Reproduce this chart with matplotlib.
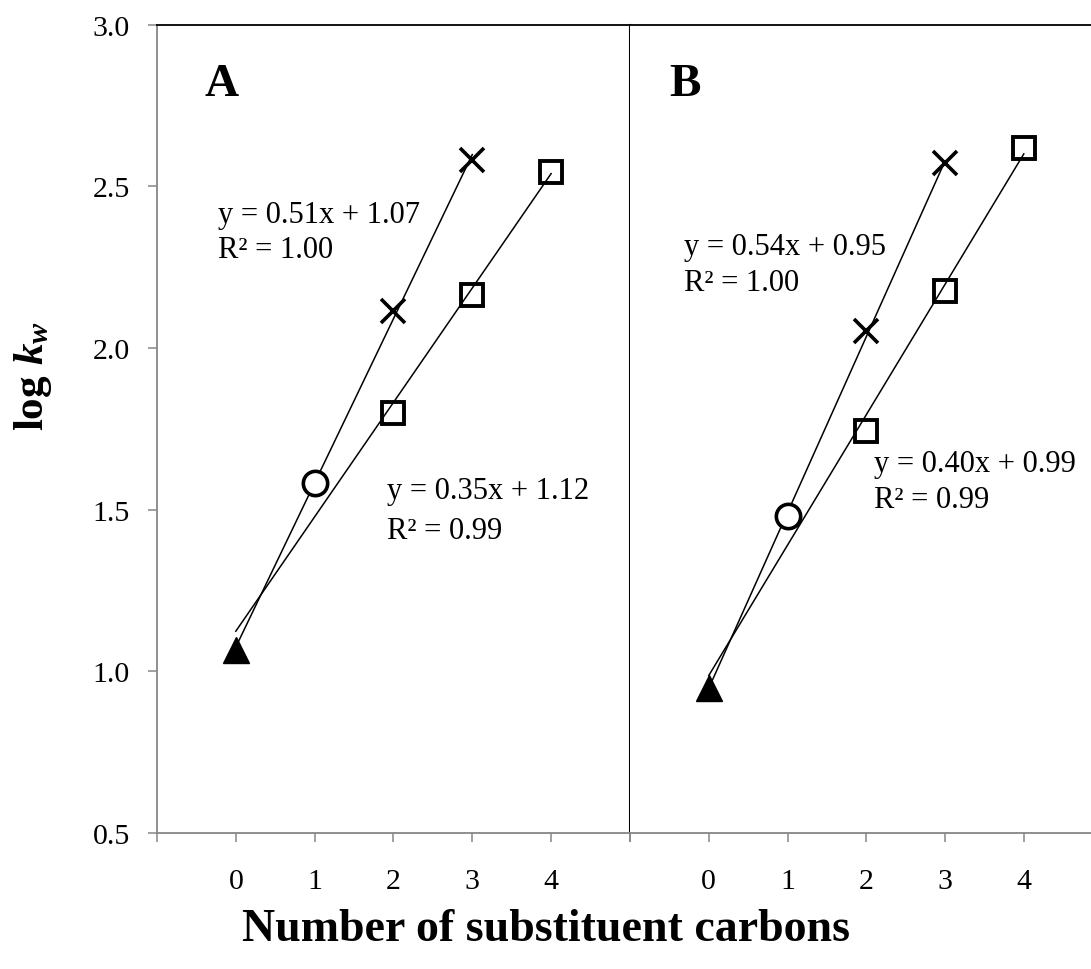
import numpy as np
import matplotlib
matplotlib.use("Agg")
import matplotlib.pyplot as plt

plt.rcParams['font.family'] = ['Liberation Serif', 'DejaVu Serif']
plt.rcParams['mathtext.fontset'] = 'custom'
plt.rcParams['mathtext.rm'] = 'Liberation Serif:bold'
plt.rcParams['mathtext.it'] = 'Liberation Serif:italic:bold'
plt.rcParams['mathtext.bf'] = 'Liberation Serif:bold'

# values
panels = ['A', 'B']
tri_x = [0]
tri_y = {'A': [1.067], 'B': [0.950]}
circ_x = [1]
circ_y = {'A': [1.583], 'B': [1.480]}
cross_x = [2, 3]
cross_y = {'A': [2.115, 2.582], 'B': [2.052, 2.571]}
sq_x = [2, 3, 4]
sq_y = {'A': [1.799, 2.165, 2.545], 'B': [1.744, 2.177, 2.618]}

eq_cross = {'A': ['y = 0.51x + 1.07', 'R² = 1.00'], 'B': ['y = 0.54x + 0.95', 'R² = 1.00']}
eq_sq = {'A': ['y = 0.35x + 1.12', 'R² = 0.99'], 'B': ['y = 0.40x + 0.99', 'R² = 0.99']}

x_ticks = [-1, 0, 1, 2, 3, 4, 5]
x_labels = ['', '0', '1', '2', '3', '4', '']
y_ticks = [0.5, 1.0, 1.5, 2.0, 2.5, 3.0]

fig = plt.figure(figsize=(10.91, 9.70), dpi=100)
gray = '#868686'
bottom, height = 0.1402, 0.8333
axA = fig.add_axes([0.1439, bottom, 0.4335, height])
axB = fig.add_axes([0.5775, bottom, 0.4331, height])

# text positions (data coords) for the equation labels
eq_pos = {'A': [(-0.23, 2.414, 2.306), (1.92, 1.558, 1.437)],
          'B': [(-0.32, 2.315, 2.204), (2.095, 1.644, 1.530)]}
letter_x = {'A': 0.10, 'B': 0.083}
fs = 21.5

for p, ax in zip(panels, [axA, axB]):
    # trend lines: cross series uses tri+circle+cross, square series uses tri+circle+squares
    xc = np.array(tri_x + circ_x + cross_x)
    yc = np.array(tri_y[p] + circ_y[p] + cross_y[p])
    xs = np.array(tri_x + circ_x + sq_x)
    ys = np.array(tri_y[p] + circ_y[p] + sq_y[p])
    for xx, yy in [(xc, yc), (xs, ys)]:
        m, b = np.polyfit(xx, yy, 1)
        xl = np.array([xx.min(), xx.max()])
        ax.plot(xl, m * xl + b, color='black', lw=1.1, zorder=2)

    ax.plot(tri_x, tri_y[p], '^', color='black', ms=19, zorder=3)
    ax.plot(circ_x, circ_y[p], 'o', mfc='white', mec='black', mew=2.6, ms=17.5, zorder=3)
    ax.plot(cross_x, cross_y[p], 'x', color='black', mew=2.6, ms=17, ls='none', zorder=3)
    ax.plot(sq_x, sq_y[p], 's', mfc='none', mec='black', mew=2.8, ms=16, ls='none', zorder=3)

    (x1, y1a, y1b), (x2, y2a, y2b) = eq_pos[p]
    ax.text(x1, y1a, eq_cross[p][0], fontsize=22, va='center', ha='left')
    ax.text(x1, y1b, eq_cross[p][1], fontsize=22, va='center', ha='left')
    ax.text(x2, y2a, eq_sq[p][0], fontsize=22, va='center', ha='left')
    ax.text(x2, y2b, eq_sq[p][1], fontsize=22, va='center', ha='left')

    ax.text(letter_x[p], 0.927, p, transform=ax.transAxes, fontsize=34, fontweight='bold',
            ha='left', va='center')

    ax.set_xlim(-1, 5)
    ax.set_ylim(0.5, 3.0)
    ax.set_xticks(x_ticks)
    ax.set_xticklabels(x_labels, fontsize=fs)
    ax.tick_params(axis='x', direction='out', length=6.5, width=1.1, color=gray, pad=19)
    ax.spines['top'].set_color('black')
    ax.spines['top'].set_linewidth(1.3)
    ax.spines['bottom'].set_color(gray)
    ax.spines['bottom'].set_linewidth(1.3)

axA.set_yticks(y_ticks)
axA.set_yticklabels(['%.1f' % v for v in y_ticks], fontsize=fs)
axA.tick_params(axis='y', direction='out', length=6.5, width=1.1, color=gray, pad=13)
axA.spines['left'].set_color(gray)
axA.spines['left'].set_linewidth(1.3)
axA.spines['right'].set_color('black')
axA.spines['right'].set_linewidth(1.5)

axB.set_yticks([])
axB.spines['left'].set_visible(False)
axB.spines['right'].set_visible(False)

fig.text(0.5, 1 - 930 / 970, 'Number of substituent carbons', fontsize=33,
         fontweight='bold', ha='center', va='center')
fig.text(0.030, 1 - 376 / 970, r'$\mathbf{log}\ k_w$', fontsize=31,
         rotation=90, ha='center', va='center')

fig.savefig('out.png', dpi=100)
